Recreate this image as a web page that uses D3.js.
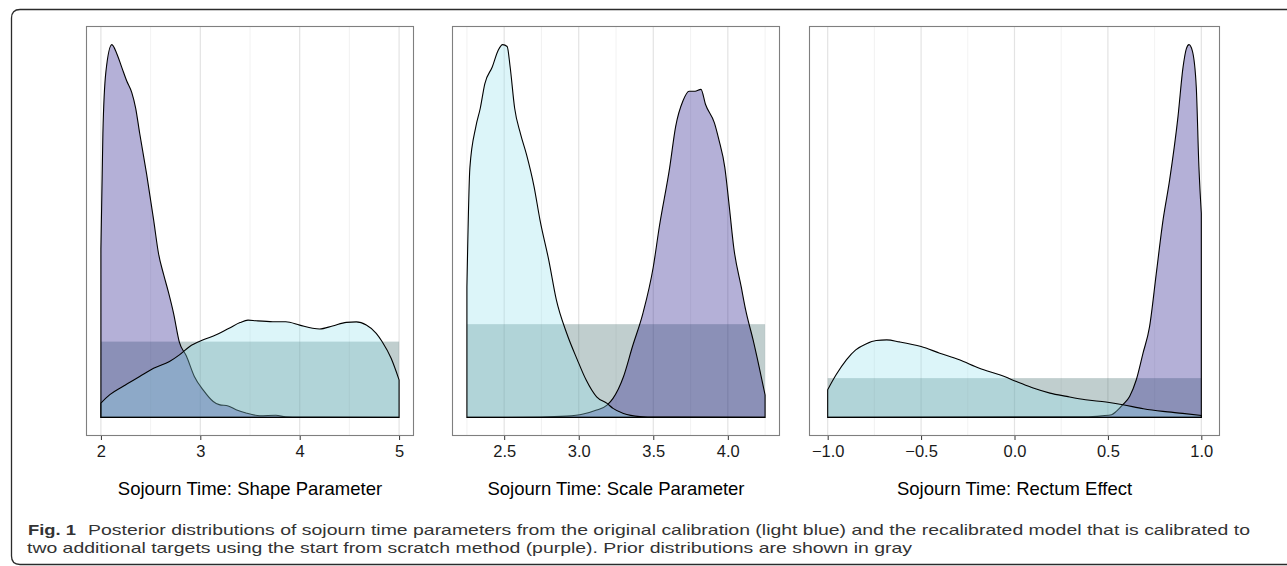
<!DOCTYPE html>
<html>
<head>
<meta charset="utf-8">
<script src="https://cdn.jsdelivr.net/npm/d3@7"></script>
<style>
  body { margin: 0; background: #fff; }
  svg { display: block; }
  .axis-title { font-family: "Liberation Sans", Arial, sans-serif; font-size: 18.5px; fill: #000; }
  .caption { font-family: "Liberation Sans", Arial, sans-serif; font-size: 15px; fill: #333; }
</style>
</head>
<body>
<div id="chart"></div>
<script>
// posterior densities, [value, density]
var shapeOriginal = [[2.00,0.063],[2.09,0.10],[2.22,0.136],[2.39,0.18],[2.53,0.216],[2.69,0.246],[2.79,0.275],[2.89,0.311],[3.03,0.341],[3.16,0.363],[3.29,0.392],[3.40,0.417],[3.48,0.428],[3.56,0.425],[3.73,0.421],[3.86,0.421],[4.00,0.406],[4.13,0.392],[4.20,0.389],[4.33,0.402],[4.47,0.418],[4.57,0.42],[4.67,0.406],[4.77,0.37],[4.83,0.333],[4.92,0.26],[5.00,0.165]];
var shapeRecal = [[2.00,0.74],[2.02,1.25],[2.05,1.52],[2.11,1.64],[2.16,1.60],[2.21,1.54],[2.26,1.48],[2.31,1.43],[2.35,1.36],[2.39,1.25],[2.46,1.07],[2.53,0.87],[2.58,0.72],[2.63,0.63],[2.68,0.55],[2.73,0.46],[2.79,0.33],[2.86,0.27],[2.94,0.18],[3.03,0.12],[3.13,0.07],[3.19,0.056],[3.28,0.05],[3.36,0.034],[3.46,0.019],[3.60,0.007],[3.76,0.009],[3.86,0.003],[4.20,0.001],[5.00,0]];

var scaleOriginal = [[2.25,0.70],[2.27,1.34],[2.31,1.56],[2.34,1.66],[2.37,1.79],[2.42,1.88],[2.46,1.97],[2.49,2.00],[2.52,1.99],[2.54,1.88],[2.57,1.66],[2.61,1.52],[2.65,1.41],[2.70,1.24],[2.74,1.06],[2.80,0.84],[2.85,0.63],[2.92,0.45],[2.99,0.31],[3.05,0.20],[3.12,0.11],[3.19,0.075],[3.23,0.048],[3.30,0.021],[3.41,0.005],[3.52,0.002],[4.25,0]];
var scaleRecal = [[2.25,0],[2.74,0.002],[2.92,0.007],[3.03,0.018],[3.12,0.039],[3.19,0.066],[3.23,0.102],[3.30,0.218],[3.36,0.379],[3.43,0.557],[3.50,0.807],[3.54,1.02],[3.61,1.34],[3.65,1.56],[3.70,1.70],[3.74,1.75],[3.78,1.75],[3.82,1.76],[3.85,1.68],[3.91,1.58],[3.94,1.49],[3.98,1.34],[4.01,1.13],[4.04,0.91],[4.09,0.70],[4.12,0.575],[4.17,0.414],[4.21,0.271],[4.25,0.12]];

var rectumOriginal = [[-1.00,0.352],[-0.955,0.542],[-0.90,0.733],[-0.85,0.86],[-0.795,0.936],[-0.74,0.979],[-0.684,0.987],[-0.616,0.962],[-0.50,0.903],[-0.40,0.818],[-0.295,0.733],[-0.188,0.627],[-0.08,0.542],[0.01,0.458],[0.10,0.373],[0.19,0.309],[0.28,0.267],[0.38,0.225],[0.49,0.195],[0.58,0.161],[0.69,0.11],[0.795,0.076],[0.90,0.051],[1.00,0.025]];
var rectumRecal = [[-1.00,0],[0.38,0.008],[0.47,0.021],[0.52,0.034],[0.545,0.076],[0.58,0.161],[0.616,0.267],[0.652,0.479],[0.688,0.818],[0.723,1.157],[0.759,1.835],[0.795,2.513],[0.83,3.02],[0.875,3.83],[0.902,4.46],[0.92,4.70],[0.934,4.75],[0.952,4.67],[0.973,4.21],[0.987,3.2],[1.00,2.6]];

// uniform priors: [min, max]
var priorRanges = [[2, 5], [2.25, 4.25], [-1, 1]];

var shapeTicks = [2, 3, 4, 5];
var scaleTicks = [2.5, 3.0, 3.5, 4.0];
var rectumTicks = [-1.0, -0.5, 0.0, 0.5, 1.0];

var titles = ["Sojourn Time: Shape Parameter", "Sojourn Time: Scale Parameter", "Sojourn Time: Rectum Effect"];

var panels = [
  {left: 86, right: 414, prior: priorRanges[0], orig: shapeOriginal, recal: shapeRecal, ticks: shapeTicks, fmt: d3.format("d"), title: titles[0]},
  {left: 452, right: 780, prior: priorRanges[1], orig: scaleOriginal, recal: scaleRecal, ticks: scaleTicks, fmt: d3.format(".1f"), title: titles[1]},
  {left: 809, right: 1220, prior: priorRanges[2], orig: rectumOriginal, recal: rectumRecal, ticks: rectumTicks, fmt: d3.format(".1f"), title: titles[2]}
];

var plotTop = 26, plotBottom = 436;

var svg = d3.select("#chart")
  .append("svg")
    .attr("width", 1287)
    .attr("height", 566);

// outer figure frame
svg.append("path")
  .attr("d", "M1290,9.5 L20,9.5 Q11.5,9.5 11.5,18 L11.5,556 Q11.5,564.5 20,564.5 L1290,564.5")
  .attr("fill", "none")
  .attr("stroke", "#2b2b2b")
  .attr("stroke-width", 1.3);

panels.forEach(function(p) {
  var lo = p.prior[0], hi = p.prior[1], w = hi - lo;
  var x = d3.scaleLinear().domain([lo - 0.05 * w, hi + 0.05 * w]).range([p.left, p.right]);
  var ymax = d3.max(p.orig.concat(p.recal), function(d) { return d[1]; });
  var y = d3.scaleLinear().domain([-0.05 * ymax, 1.05 * ymax]).range([plotBottom, plotTop]);

  var g = svg.append("g");

  // grid
  var step = p.ticks[1] - p.ticks[0];
  var minors = p.ticks.map(function(t) { return t - step / 2; })
    .concat([p.ticks[p.ticks.length - 1] + step / 2])
    .filter(function(v) { return v >= x.domain()[0] && v <= x.domain()[1]; });

  g.selectAll(".minor").data(minors).enter().append("line")
    .attr("x1", function(d) { return x(d); }).attr("x2", function(d) { return x(d); })
    .attr("y1", plotTop).attr("y2", plotBottom)
    .attr("stroke", "#efefef").attr("stroke-width", 0.8);
  g.selectAll(".major").data(p.ticks).enter().append("line")
    .attr("x1", function(d) { return x(d); }).attr("x2", function(d) { return x(d); })
    .attr("y1", plotTop).attr("y2", plotBottom)
    .attr("stroke", "#e3e3e3").attr("stroke-width", 1.2);

  // prior
  g.append("rect")
    .attr("x", x(lo)).attr("width", x(hi) - x(lo))
    .attr("y", y(1 / w)).attr("height", y(0) - y(1 / w))
    .attr("fill", "rgb(48,92,92)").attr("fill-opacity", 0.3);

  var area = d3.area()
    .x(function(d) { return x(d[0]); })
    .y0(y(0))
    .y1(function(d) { return y(d[1]); })
    .curve(d3.curveMonotoneX);

  // recalibrated (purple)
  g.append("path")
    .attr("d", area(p.recal) + "Z")
    .attr("fill", "rgb(40,30,140)").attr("fill-opacity", 0.35)
    .attr("stroke", "#000").attr("stroke-width", 1.1);

  // original (light blue)
  g.append("path")
    .attr("d", area(p.orig) + "Z")
    .attr("fill", "rgb(146,224,236)").attr("fill-opacity", 0.32)
    .attr("stroke", "#000").attr("stroke-width", 1.1);

  // panel border
  g.append("rect")
    .attr("x", p.left + 0.5).attr("y", plotTop + 0.5)
    .attr("width", p.right - p.left - 1).attr("height", plotBottom - plotTop - 1)
    .attr("fill", "none").attr("stroke", "#7f7f7f").attr("stroke-width", 1.1);

  var axis = d3.axisBottom(x).tickValues(p.ticks).tickFormat(p.fmt).tickSize(4).tickPadding(5);
  var ax = g.append("g")
    .attr("transform", "translate(0," + plotBottom + ")")
    .call(axis);
  ax.select(".domain").remove();
  ax.selectAll(".tick line").attr("stroke", "#333");
  ax.selectAll(".tick text")
    .attr("font-family", "'Liberation Sans', Arial, sans-serif")
    .attr("font-size", "16.5px")
    .attr("fill", "#1a1a1a");

  g.append("text")
    .attr("class", "axis-title")
    .attr("x", (p.left + p.right) / 2)
    .attr("y", 495)
    .attr("text-anchor", "middle")
    .text(p.title);
});

// caption
svg.append("text").attr("class", "caption").attr("x", 28).attr("y", 534.5)
  .attr("font-weight", "bold").attr("fill", "#111")
  .attr("textLength", 48).attr("lengthAdjust", "spacingAndGlyphs")
  .text("Fig. 1");
svg.append("text").attr("class", "caption").attr("x", 88).attr("y", 534.5)
  .attr("textLength", 1162).attr("lengthAdjust", "spacingAndGlyphs")
  .text("Posterior distributions of sojourn time parameters from the original calibration (light blue) and the recalibrated model that is calibrated to");
svg.append("text").attr("class", "caption").attr("x", 27).attr("y", 553)
  .attr("textLength", 885).attr("lengthAdjust", "spacingAndGlyphs")
  .text("two additional targets using the start from scratch method (purple). Prior distributions are shown in gray");
</script>
</body>
</html>
